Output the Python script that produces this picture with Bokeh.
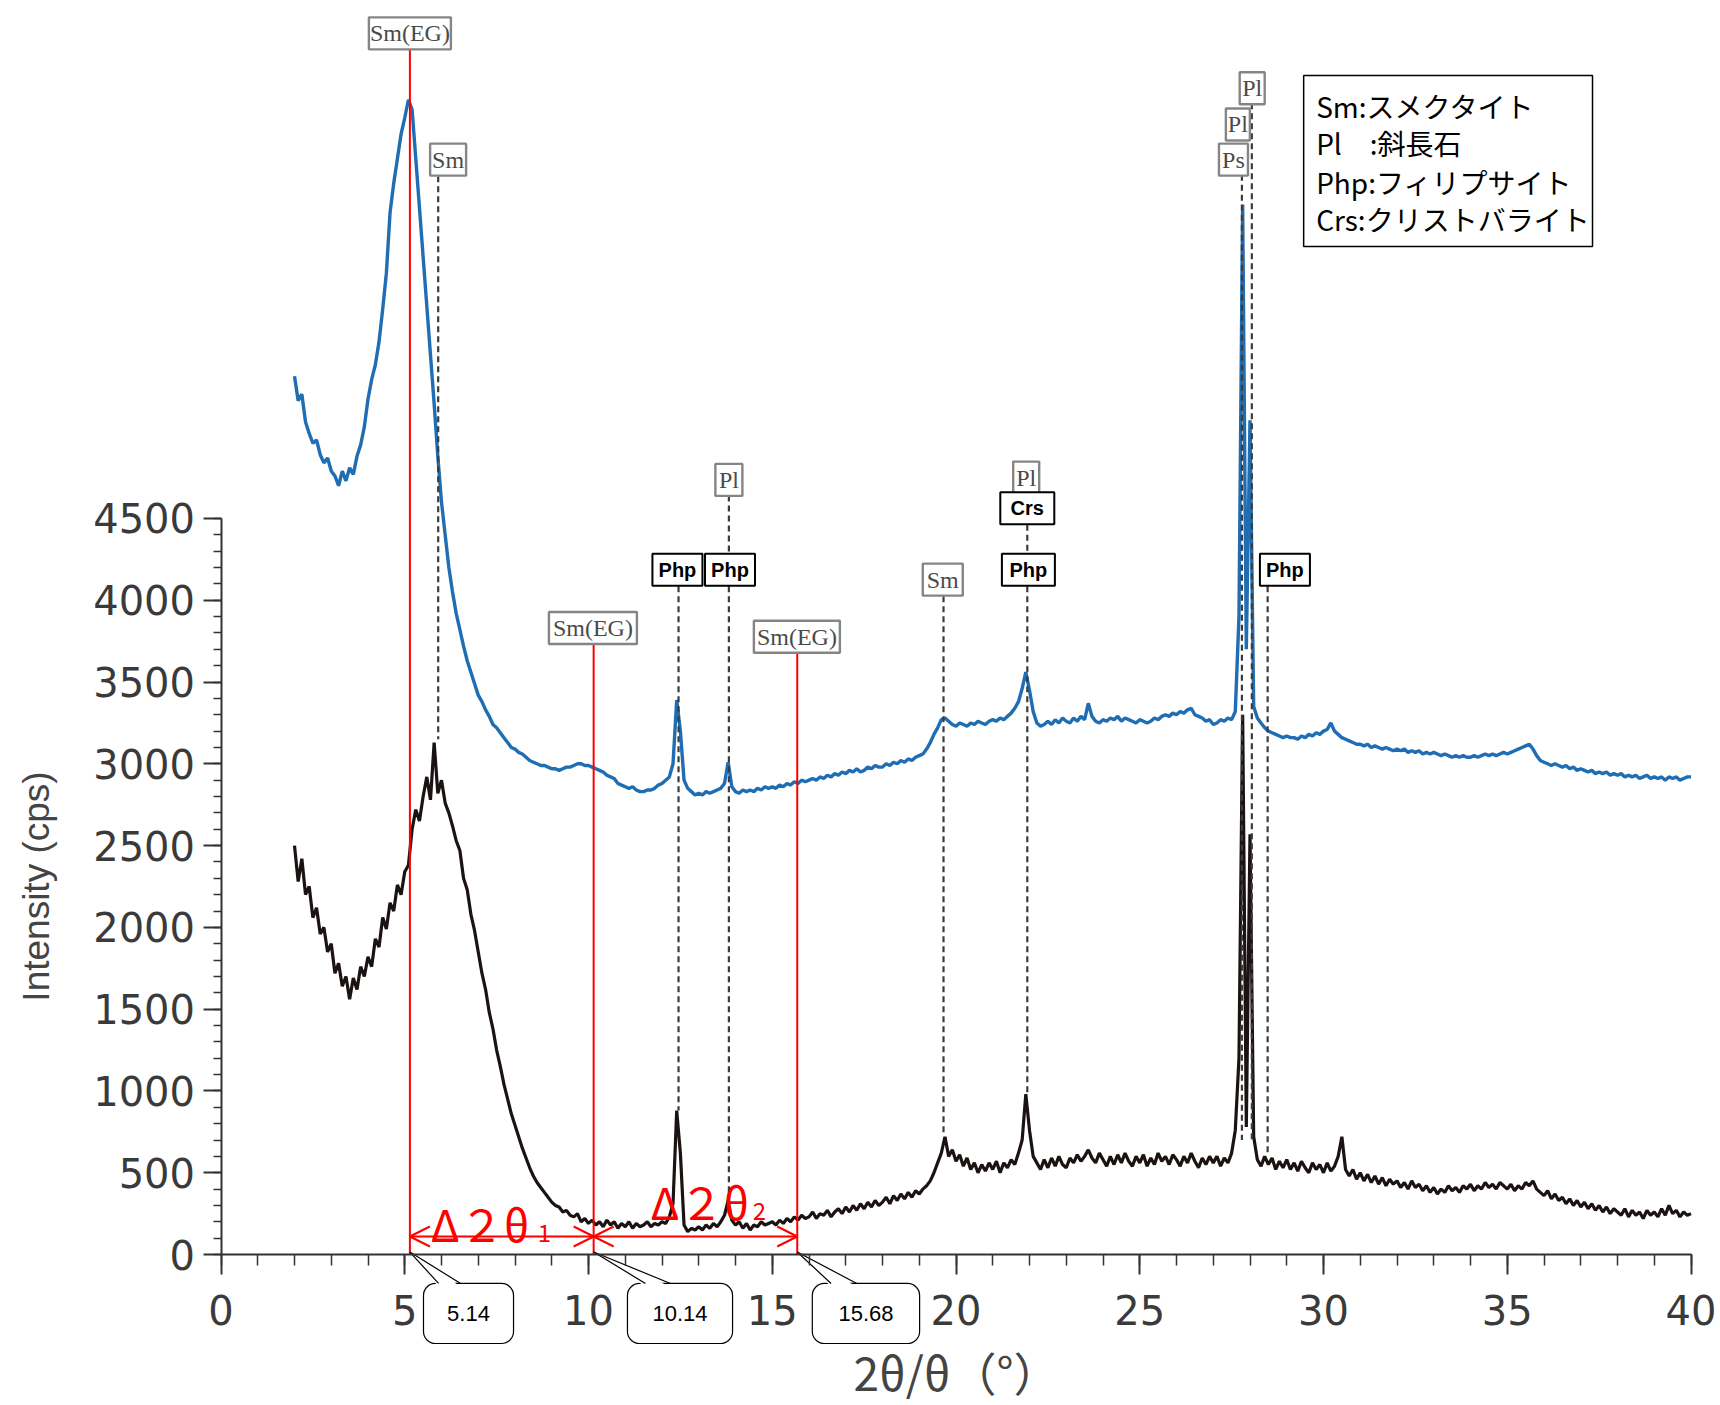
import numpy as np
from bokeh.plotting import figure
from bokeh.models import Range1d, SingleIntervalTicker, Arrow, OpenHead
from bokeh.core.properties import value
from bokeh.embed import file_html
from bokeh.resources import INLINE

# ---------------- data ----------------
two_theta = np.round(np.arange(2.0, 40.0001, 0.1), 1)   # sampling grid, 2..40 deg

blue_cps = [
    5370, 5220, 5260, 5090, 5020, 4960, 4980, 4890, 4840, 4870,   # 2
    4790, 4760, 4700, 4790, 4730, 4810, 4770, 4880, 4950, 5060,   # 3
    5230, 5350, 5440, 5580, 5780, 6000, 6370, 6550, 6700, 6850,   # 4
    6950, 7060, 7000, 6700, 6400, 6100, 5800, 5500, 5200, 4880,   # 5
    4600, 4400, 4200, 4050, 3920, 3820, 3720, 3630, 3560, 3490,   # 6
    3420, 3380, 3330, 3290, 3240, 3220, 3190, 3160, 3130, 3100,   # 7
    3090, 3070, 3060, 3040, 3020, 3010, 3000, 2990, 2990, 2980,   # 8
    2970, 2970, 2960, 2970, 2980, 2980, 2990, 3000, 3000, 2990,   # 9
    2990, 2980, 2970, 2960, 2950, 2930, 2920, 2910, 2880, 2870,   # 10
    2860, 2850, 2860, 2840, 2830, 2830, 2840, 2840, 2850, 2870,   # 11
    2880, 2900, 2920, 3000, 3390, 3200, 2900, 2850, 2830, 2810,   # 12
    2820, 2810, 2830, 2820, 2830, 2840, 2850, 2880, 3010, 2860,   # 13
    2830, 2820, 2840, 2830, 2840, 2830, 2850, 2840, 2860, 2850,   # 14
    2860, 2850, 2870, 2860, 2880, 2870, 2890, 2880, 2900, 2890,   # 15
    2900, 2910, 2900, 2920, 2910, 2930, 2920, 2940, 2930, 2950,   # 16
    2940, 2960, 2950, 2970, 2950, 2960, 2980, 2970, 2990, 2980,   # 17
    2980, 3000, 2990, 3010, 3000, 3020, 3010, 3030, 3020, 3040,   # 18
    3050, 3060, 3090, 3130, 3180, 3220, 3270, 3280, 3260, 3240,   # 19
    3230, 3250, 3240, 3230, 3250, 3240, 3260, 3250, 3240, 3260,   # 20
    3270, 3260, 3280, 3270, 3290, 3310, 3340, 3380, 3460, 3560,   # 21
    3450, 3320, 3250, 3230, 3240, 3260, 3240, 3270, 3250, 3280,   # 22
    3260, 3250, 3280, 3260, 3290, 3270, 3370, 3290, 3260, 3250,   # 23
    3270, 3260, 3280, 3270, 3290, 3260, 3280, 3270, 3260, 3250,   # 24
    3270, 3260, 3250, 3260, 3280, 3270, 3290, 3300, 3290, 3310,   # 25
    3300, 3320, 3310, 3330, 3340, 3300, 3290, 3280, 3260, 3270,   # 26
    3240, 3250, 3270, 3260, 3280, 3270, 3320, 3900, 6420, 3700,   # 27
    5100, 3350, 3280, 3250, 3220, 3200, 3190, 3180, 3170, 3160,   # 28
    3170, 3160, 3160, 3150, 3170, 3160, 3180, 3170, 3190, 3180,   # 29
    3200, 3210, 3250, 3200, 3180, 3160, 3150, 3140, 3130, 3120,   # 30
    3120, 3110, 3120, 3100, 3110, 3100, 3090, 3100, 3090, 3080,   # 31
    3090, 3080, 3090, 3070, 3080, 3070, 3080, 3060, 3070, 3060,   # 32
    3070, 3060, 3050, 3060, 3050, 3040, 3050, 3040, 3050, 3040,   # 33
    3040, 3050, 3040, 3050, 3060, 3050, 3060, 3050, 3060, 3070,   # 34
    3060, 3070, 3080, 3090, 3100, 3110, 3120, 3090, 3050, 3020,   # 35
    3010, 3000, 2990, 3000, 2990, 2980, 2990, 2970, 2980, 2960,   # 36
    2970, 2960, 2950, 2960, 2940, 2950, 2940, 2950, 2930, 2940,   # 37
    2930, 2940, 2920, 2930, 2920, 2930, 2910, 2920, 2930, 2910,   # 38
    2920, 2910, 2920, 2900, 2920, 2910, 2920, 2900, 2910, 2920,   # 39
    2920,                                                         # 40
]

black_cps = [
    2500, 2280, 2420, 2200, 2250, 2060, 2120, 1960, 2000, 1850,   # 2
    1900, 1720, 1780, 1640, 1700, 1560, 1690, 1620, 1760, 1700,   # 3
    1820, 1760, 1930, 1880, 2060, 1990, 2150, 2100, 2260, 2200,   # 4
    2340, 2380, 2600, 2720, 2650, 2800, 2920, 2780, 3130, 2820,   # 5
    2900, 2760, 2700, 2620, 2530, 2470, 2300, 2230, 2080, 1980,   # 6
    1850, 1720, 1620, 1480, 1380, 1250, 1150, 1040, 950, 860,     # 7
    790, 720, 650, 590, 530, 480, 440, 410, 380, 350,             # 8
    320, 300, 290, 260, 270, 240, 230, 250, 200, 220,             # 9
    190, 210, 180, 200, 170, 210, 180, 200, 160, 190,             # 10
    170, 200, 160, 190, 170, 180, 200, 170, 190, 180,             # 11
    200, 190, 230, 310, 880, 620, 180, 140, 160, 150,             # 12
    170, 150, 180, 160, 190, 170, 200, 240, 330, 210,             # 13
    180, 200, 160, 190, 150, 180, 170, 200, 180, 190,             # 14
    200, 180, 210, 190, 220, 200, 230, 210, 240, 220,             # 15
    230, 260, 220, 250, 240, 270, 230, 260, 280, 250,             # 16
    290, 260, 300, 270, 310, 280, 320, 290, 330, 300,             # 17
    320, 350, 310, 360, 330, 370, 340, 380, 350, 390,             # 18
    370, 400, 420, 450, 500, 560, 620, 720, 600, 640,             # 19
    570, 610, 540, 590, 520, 560, 500, 550, 510, 560,             # 20
    520, 570, 500, 560, 530, 580, 550, 620, 700, 980,             # 21
    760, 600, 560, 520, 580, 530, 590, 540, 600, 550,             # 22
    530, 590, 560, 610, 570, 600, 640, 590, 560, 620,             # 23
    580, 540, 600, 550, 610, 560, 620, 570, 540, 600,             # 24
    560, 610, 540, 590, 550, 620, 570, 600, 550, 610,             # 25
    580, 540, 600, 560, 620, 570, 530, 590, 550, 600,             # 26
    560, 600, 540, 590, 560, 620, 760, 1200, 3300, 780,           # 27
    2570, 720, 580, 540, 600, 550, 590, 520, 570, 530,            # 28
    580, 520, 560, 510, 570, 530, 500, 560, 520, 550,             # 29
    500, 560, 510, 540, 600, 720, 520, 480, 520, 460,             # 30
    500, 450, 490, 440, 480, 430, 470, 420, 460, 430,             # 31
    450, 410, 440, 400, 450, 410, 430, 390, 420, 380,             # 32
    410, 370, 400, 380, 420, 390, 410, 380, 420, 400,             # 33
    430, 390, 420, 400, 440, 410, 430, 400, 440, 420,             # 34
    400, 430, 390, 420, 400, 440, 420, 450, 400, 380,             # 35
    360, 390, 340, 370, 330, 350, 310, 340, 300, 330,             # 36
    290, 320, 280, 310, 270, 300, 260, 290, 250, 280,             # 37
    260, 240, 280, 230, 270, 240, 260, 220, 270, 240,             # 38
    260, 230, 280, 240, 300, 250, 270, 230, 260, 240,             # 39
    250,                                                          # 40
]

x_ticks_step = 5
y_ticks_step = 500

# peak-label annotations (grey boxes)
grey_text = ["Sm(EG)", "Sm", "Sm(EG)", "Pl", "Sm(EG)", "Sm", "Pl", "Ps", "Pl", "Pl"]
grey_x = [5.14, 6.18, 10.12, 13.82, 15.67, 19.64, 21.91, 27.55, 27.67, 28.06]
grey_y = [7466, 6694, 3830, 4736, 3777, 4126, 4750, 6694, 6909, 7130]
grey_w = [82, 36, 88, 27, 86, 40, 26, 29, 24, 25]

# peak-label annotations (black boxes)
black_text = ["Php", "Php", "Crs", "Php", "Php"]
black_x = [12.42, 13.85, 21.94, 21.97, 28.95]
black_y = [4186, 4186, 4562, 4186, 4186]
black_w = [50, 50, 54, 53, 50]

# dashed guide lines (x, from, to)
dash_x = [5.91, 12.45, 13.82, 13.82, 19.66, 21.94, 21.94, 27.78, 28.05, 28.48]
dash_y0 = [6593, 4085, 4641, 4085, 4025, 4461, 4085, 6602, 7038, 4085]
dash_y1 = [3150, 880, 4287, 330, 730, 4287, 980, 700, 700, 600]

# Sm(EG) positions (red lines)
red_x = [5.14, 10.14, 15.68]
red_top = [7365, 3732, 3676]
red_text = ["5.14", "10.14", "15.68"]

legend_lines = ["Sm:スメクタイト", "Pl　:斜長石", "Php:フィリプサイト", "Crs:クリストバライト"]

# ---------------- geometry ----------------
W, H = 1720, 1405
PX0, PXS = 220.5, 36.75        # pixel of x=0, px per degree (reference)
PY0, PYS = 1254.0, 0.16356     # pixel of y=0, px per cps (reference)

x0 = (0 - PX0) / PXS
x1 = (W - PX0) / PXS
y1 = (PY0 - 0) / PYS
y0 = (PY0 - H) / PYS

p = figure(width=W, height=H, output_backend="svg", toolbar_location=None,
           x_range=Range1d(x0, x1), y_range=Range1d(y0, y1),
           min_border=0, min_border_left=0, min_border_right=0,
           min_border_top=0, min_border_bottom=0)
p.outline_line_color = None
p.xgrid.visible = False
p.ygrid.visible = False
p.background_fill_color = "white"

AX = "#333333"
LBL = "#3a3a3a"
xa = p.xaxis[0]
xa.fixed_location = 0
xa.bounds = (0, 40)
xa.ticker = SingleIntervalTicker(interval=x_ticks_step, num_minor_ticks=5)
xa.axis_line_color = AX
xa.axis_line_width = 2
xa.major_tick_line_color = AX
xa.major_tick_line_width = 2
xa.major_tick_out = 20
xa.major_tick_in = 0
xa.minor_tick_line_color = AX
xa.minor_tick_line_width = 1.5
xa.minor_tick_out = 11
xa.minor_tick_in = 0
xa.major_label_text_font = "DejaVu Sans"
xa.major_label_text_font_size = "40px"
xa.major_label_text_color = LBL
xa.major_label_standoff = 20
xa.axis_label = "2θ/θ（°）"
xa.axis_label_text_font = "Noto Sans CJK JP"
xa.axis_label_text_font_size = "46px"
xa.axis_label_text_font_style = "normal"
xa.axis_label_text_color = "#444444"
xa.axis_label_standoff = 10

ya = p.yaxis[0]
ya.fixed_location = 0
ya.bounds = (0, 4500)
ya.ticker = SingleIntervalTicker(interval=y_ticks_step, num_minor_ticks=5)
ya.axis_line_color = AX
ya.axis_line_width = 2
ya.major_tick_line_color = AX
ya.major_tick_line_width = 2
ya.major_tick_out = 18
ya.major_tick_in = 0
ya.minor_tick_line_color = AX
ya.minor_tick_line_width = 1.5
ya.minor_tick_out = 8
ya.minor_tick_in = 0
ya.major_label_text_font = "DejaVu Sans"
ya.major_label_text_font_size = "40px"
ya.major_label_text_color = LBL
ya.major_label_standoff = 8
ya.axis_label = "Intensity (cps)"
ya.axis_label_text_font = "Liberation Sans"
ya.axis_label_text_font_size = "37px"
ya.axis_label_text_font_style = "normal"
ya.axis_label_text_color = "#444444"
ya.axis_label_standoff = 34

# ---------------- curves ----------------
p.line(two_theta, black_cps, line_color="#1b1311", line_width=3.2)
p.line(two_theta, blue_cps, line_color="#1f6db3", line_width=3.4)

# dashed guide lines
p.segment(x0=dash_x, y0=dash_y0, x1=dash_x, y1=dash_y1,
          line_color="#3c3c3c", line_width=2.2, line_dash="6 4")

# red lines
p.segment(x0=red_x, y0=[0, 0, 0], x1=red_x, y1=red_top, line_color="#ff0000", line_width=2)

# Δ2θ arrows
for xa_, xb_ in [(red_x[0], red_x[1]), (red_x[1], red_x[2])]:
    p.add_layout(Arrow(x_start=xa_, y_start=110, x_end=xb_, y_end=110,
                       line_color="#ff0000", line_width=2,
                       start=OpenHead(size=20, line_color="#ff0000", line_width=2),
                       end=OpenHead(size=20, line_color="#ff0000", line_width=2)))

p.text(x=[5.71, 11.69], y=[190, 330], text=["Δ２θ", "Δ２θ"], text_color="#ff0000",
       text_font=value("Noto Sans CJK JP"), text_font_size="44px",
       text_baseline="alphabetic", text_align="left")
p.text(x=[8.62, 14.47], y=[134, 269], text=["1", "2"], text_color="#ff0000",
       text_font=value("Noto Sans CJK JP"), text_font_size="24px",
       text_baseline="alphabetic", text_align="left")

# callouts below the axis
call_left = [5.51, 11.06, 16.09]
call_right = [7.96, 13.92, 19.01]
call_base_l = [5.92, 11.55, 16.60]
call_base_r = [6.52, 12.23, 17.30]
call_top, call_bot = -177, -544
p.quad(left=call_left, right=call_right, top=[call_top] * 3, bottom=[call_bot] * 3,
       fill_color="white", line_color="black", line_width=1.2, border_radius=12)
p.patches(xs=[[bl, tx, br] for bl, tx, br in zip(call_base_l, red_x, call_base_r)],
          ys=[[call_top - 20, 15, call_top - 20]] * 3,
          fill_color="white", line_color=None)
p.segment(x0=call_base_l + call_base_r, y0=[call_top] * 6,
          x1=red_x + red_x, y1=[15] * 6, line_color="black", line_width=1.2)
p.text(x=[(a + b) / 2 for a, b in zip(call_left, call_right)], y=[(call_top + call_bot) / 2] * 3,
       text=red_text, text_font=value("Liberation Sans"), text_font_size="22px",
       text_color="black", text_align="center", text_baseline="middle")

# grey peak labels
p.rect(x=grey_x, y=grey_y, width=grey_w, height=[32] * len(grey_x),
       width_units="screen", height_units="screen",
       fill_color="white", line_color="#858585", line_width=2.4)
p.text(x=grey_x, y=grey_y, text=grey_text, text_font=value("Liberation Serif"),
       text_font_size="24px", text_color="#4a4a4a", text_align="center", text_baseline="middle")

# black peak labels
p.rect(x=black_x, y=black_y, width=black_w, height=[32] * len(black_x),
       width_units="screen", height_units="screen",
       fill_color="white", line_color="black", line_width=2)
p.text(x=black_x, y=black_y, text=black_text, text_font=value("Liberation Sans"),
       text_font_style="bold", text_font_size="20px", text_color="black",
       text_align="center", text_baseline="middle")

# legend box
p.quad(left=[29.46], right=[37.32], top=[7208], bottom=[6163],
       fill_color="white", line_color="black", line_width=1.5)
p.text(x=[29.80] * 4, y=[7019, 6793, 6560, 6334], text=legend_lines,
       text_font=value("Noto Sans CJK JP"), text_font_size="28px", text_color="black",
       text_align="left", text_baseline="middle")

open("out.html", "w").write(file_html(p, INLINE))
